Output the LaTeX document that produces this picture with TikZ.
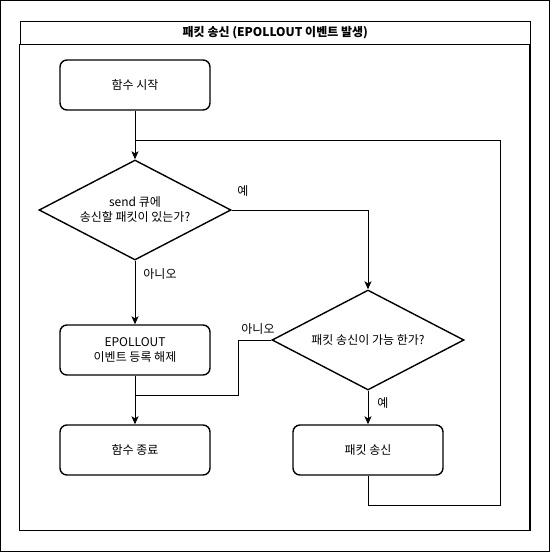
\documentclass[tikz,border=0pt]{standalone}
\usepackage{fontspec}
\setmainfont{Noto Sans CJK KR}
\usetikzlibrary{shapes.geometric, arrows.meta}

\tikzset{
    stepbox/.style={draw, line width=1.4pt, rounded corners=7pt,
        minimum width=150pt, minimum height=50pt, align=center,
        font=\fontsize{12}{15}\selectfont},
    decide/.style={draw, diamond, line width=1.4pt, inner sep=0pt,
        minimum width=192pt, minimum height=100pt},
    txt/.style={align=center, inner sep=0pt, font=\fontsize{12}{15}\selectfont},
    flow/.style={line width=0.9pt, -{Stealth[length=8pt, width=7pt, inset=2pt]}},
    link/.style={line width=0.9pt},
}

\begin{document}
\begin{tikzpicture}[x=1pt, y=-1pt]
    \useasboundingbox (0,0) rectangle (550,552);
    \draw[line width=1pt] (0.5,0.5) rectangle (549.5,551.5);

    % lane with its title
    \node[draw, line width=1.2pt, anchor=north west, minimum width=510.5pt,
          minimum height=23pt, font=\fontsize{12}{15}\selectfont\bfseries]
          (title) at (19.5,20.5) {패킷 송신 (EPOLLOUT 이벤트 발생)};
    \draw[line width=1.2pt] (title.south west) rectangle (530,530.5);

    \node[stepbox] (start)  at (135,85)  {함수 시작};
    \node[decide]  (q1)     at (135,210) {};
    \node[txt]     (q1t)    at (q1)      {send 큐에\\송신할 패킷이 있는가?};
    \node[stepbox] (unreg)  at (135,350) {EPOLLOUT\\이벤트 등록 해제};
    \node[decide]  (q2)     at (368,340) {};
    \node[txt]     (q2t)    at (q2)      {패킷 송신이 가능 한가?};
    \node[stepbox] (finish) at (135,450) {함수 종료};
    \node[stepbox] (send)   at (368,450) {패킷 송신};

    \coordinate (loop)  at (135,140);
    \coordinate (back)  at (500,505);
    \coordinate (turn)  at (238,395);
    \coordinate (merge) at (135,395);

    \draw[link] (start) -- (loop);
    \draw[flow] (send.south) |- (back) |- (loop) -- (q1.north);
    \draw[flow] (q1.east) -| (q2.north);
    \draw[flow] (q1.south) -- (unreg.north);
    \draw[link] (q2.west) -| (turn) -- (merge);
    \draw[link] (unreg.south) -- (merge);
    \draw[flow] (merge) -- (finish.north);
    \draw[flow] (q2.south) -- (send.north);

    % edge labels
    \node[txt] (yes1) at (243,191) {예};
    \node[txt] (no1)  at (160,274) {아니오};
    \node[txt] (no2)  at (258,329) {아니오};
    \node[txt] (yes2) at (383,403) {예};
\end{tikzpicture}
\end{document}
